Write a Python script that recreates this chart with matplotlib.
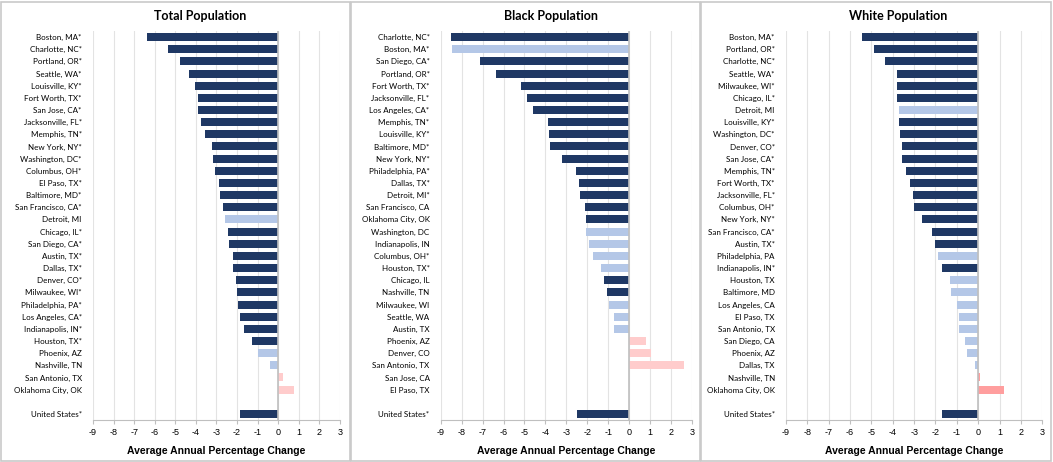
import numpy as np
import matplotlib
matplotlib.use("Agg")
import matplotlib.pyplot as plt
from matplotlib.patches import Rectangle

# Total population
total_cities = ['Boston, MA*', 'Charlotte, NC*', 'Portland, OR*', 'Seattle, WA*', 'Louisville, KY*',
                'Fort Worth, TX*', 'San Jose, CA*', 'Jacksonville, FL*', 'Memphis, TN*', 'New York, NY*',
                'Washington, DC*', 'Columbus, OH*', 'El Paso, TX*', 'Baltimore, MD*', 'San Francisco, CA*',
                'Detroit, MI', 'Chicago, IL*', 'San Diego, CA*', 'Austin, TX*', 'Dallas, TX*',
                'Denver, CO*', 'Milwaukee, WI*', 'Philadelphia, PA*', 'Los Angeles, CA*', 'Indianapolis, IN*',
                'Houston, TX*', 'Phoenix, AZ', 'Nashville, TN', 'San Antonio, TX', 'Oklahoma City, OK',
                '', 'United States*']
total_vals = [-6.40, -5.37, -4.75, -4.33, -4.05, -3.92, -3.89, -3.73, -3.54, -3.24,
              -3.16, -3.05, -2.90, -2.81, -2.68, -2.59, -2.45, -2.37, -2.20, -2.19,
              -2.07, -1.98, -1.97, -1.88, -1.65, -1.26, -0.96, -0.39, 0.21, 0.78,
              np.nan, -1.88]
total_sig = ['d'] * 15 + ['l'] + ['d'] * 10 + ['l', 'l', 'p', 'p', '', 'd']

# Black population
black_cities = ['Charlotte, NC*', 'Boston, MA*', 'San Diego, CA*', 'Portland, OR*', 'Fort Worth, TX*',
                'Jacksonville, FL*', 'Los Angeles, CA*', 'Memphis, TN*', 'Louisville, KY*', 'Baltimore, MD*',
                'New York, NY*', 'Philadelphia, PA*', 'Dallas, TX*', 'Detroit, MI*', 'San Francisco, CA',
                'Oklahoma City, OK', 'Washington, DC', 'Indianapolis, IN', 'Columbus, OH*', 'Houston, TX*',
                'Chicago, IL', 'Nashville, TN', 'Milwaukee, WI', 'Seattle, WA', 'Austin, TX',
                'Phoenix, AZ', 'Denver, CO', 'San Antonio, TX', 'San Jose, CA', 'El Paso, TX',
                '', 'United States*']
black_vals = [-8.53, -8.48, -7.13, -6.37, -5.17, -4.90, -4.61, -3.90, -3.85, -3.79,
              -3.19, -2.55, -2.42, -2.36, -2.12, -2.08, -2.04, -1.90, -1.73, -1.33,
              -1.19, -1.06, -0.97, -0.73, -0.71, 0.81, 1.05, 2.61, np.nan, np.nan,
              np.nan, -2.47]
black_sig = ['d', 'l'] + ['d'] * 14 + ['l'] * 4 + ['d', 'd'] + ['l'] * 3 + ['p'] * 3 + ['', '', '', 'd']

# White population
white_cities = ['Boston, MA*', 'Portland, OR*', 'Charlotte, NC*', 'Seattle, WA*', 'Milwaukee, WI*',
                'Chicago, IL*', 'Detroit, MI', 'Louisville, KY*', 'Washington, DC*', 'Denver, CO*',
                'San Jose, CA*', 'Memphis, TN*', 'Fort Worth, TX*', 'Jacksonville, FL*', 'Columbus, OH*',
                'New York, NY*', 'San Francisco, CA*', 'Austin, TX*', 'Philadelphia, PA', 'Indianapolis, IN*',
                'Houston, TX', 'Baltimore, MD', 'Los Angeles, CA', 'El Paso, TX', 'San Antonio, TX',
                'San Diego, CA', 'Phoenix, AZ', 'Dallas, TX', 'Nashville, TN', 'Oklahoma City, OK',
                '', 'United States*']
white_vals = [-5.43, -4.90, -4.35, -3.82, -3.82, -3.81, -3.73, -3.70, -3.68, -3.59,
              -3.56, -3.40, -3.18, -3.03, -3.00, -2.61, -2.15, -2.01, -1.89, -1.68,
              -1.33, -1.25, -1.00, -0.90, -0.89, -0.62, -0.51, -0.16, 0.08, 1.22,
              np.nan, -1.68]
white_sig = ['d'] * 6 + ['l'] + ['d'] * 11 + ['l', 'd'] + ['l'] * 8 + ['r', 'r', '', 'd']

titles = ['Total Population', 'Black Population', 'White Population']
xticks = list(range(-9, 4))

colors = {'d': '#1F3864', 'l': '#B4C7E7', 'p': '#FFCCCC', 'r': '#FF9E9E', '': 'none'}

fig = plt.figure(figsize=(10.53, 4.62), dpi=100)

panels = [(total_cities, total_vals, total_sig),
          (black_cities, black_vals, black_sig),
          (white_cities, white_vals, white_sig)]
ax_left = [0.0883, 0.4185, 0.7464]
ax_width = [0.2346, 0.2387, 0.2434]
title_x = [200 / 1053, 551 / 1053, 898 / 1053]
box_x = [(1, 350), (351, 700), (701, 1051)]

for i, (cities, vals, sig) in enumerate(panels):
    # panel border
    x0, x1 = box_x[i]
    fig.patches.append(Rectangle((x0 / 1053, 1 / 462), (x1 - x0) / 1053, 459 / 462,
                                 transform=fig.transFigure, fill=False,
                                 edgecolor='#C9C9C9', linewidth=1.2))

    ax = fig.add_axes([ax_left[i], 0.0909, ax_width[i], 0.842])
    y = np.arange(len(cities))
    v = np.nan_to_num(np.array(vals, dtype=float))
    ax.barh(y, v, height=0.66, color=[colors[s] for s in sig], zorder=3)
    ax.set_ylim(len(cities) - 0.5, -0.5)
    ax.set_xlim(-9, 3)
    ax.set_xticks(xticks)
    ax.set_xticklabels([str(t) for t in xticks], fontsize=6.5, family='Liberation Sans')
    ax.set_yticks(y)
    ax.set_yticklabels(cities, fontsize=5.8, family='Lato')
    ax.tick_params(axis='y', length=0, pad=8)
    ax.tick_params(axis='x', length=3, color='#BFBFBF', pad=3)
    for sp in ['top', 'right', 'left']:
        ax.spines[sp].set_visible(False)
    ax.spines['bottom'].set_color('#BFBFBF')
    ax.grid(axis='x', color='#E3E3E3', linewidth=0.8, zorder=0)
    ax.axvline(0, color='#BFBFBF', linewidth=1.2, zorder=4)
    ax.set_xlabel('Average Annual Percentage Change', fontsize=7.5, fontweight='bold',
                  family='Liberation Sans', labelpad=6)
    fig.text(title_x[i], 1 - 16 / 462, titles[i], ha='center', va='center',
             fontsize=9, fontweight='bold', family='Lato')

fig.savefig('out.png', dpi=100)
